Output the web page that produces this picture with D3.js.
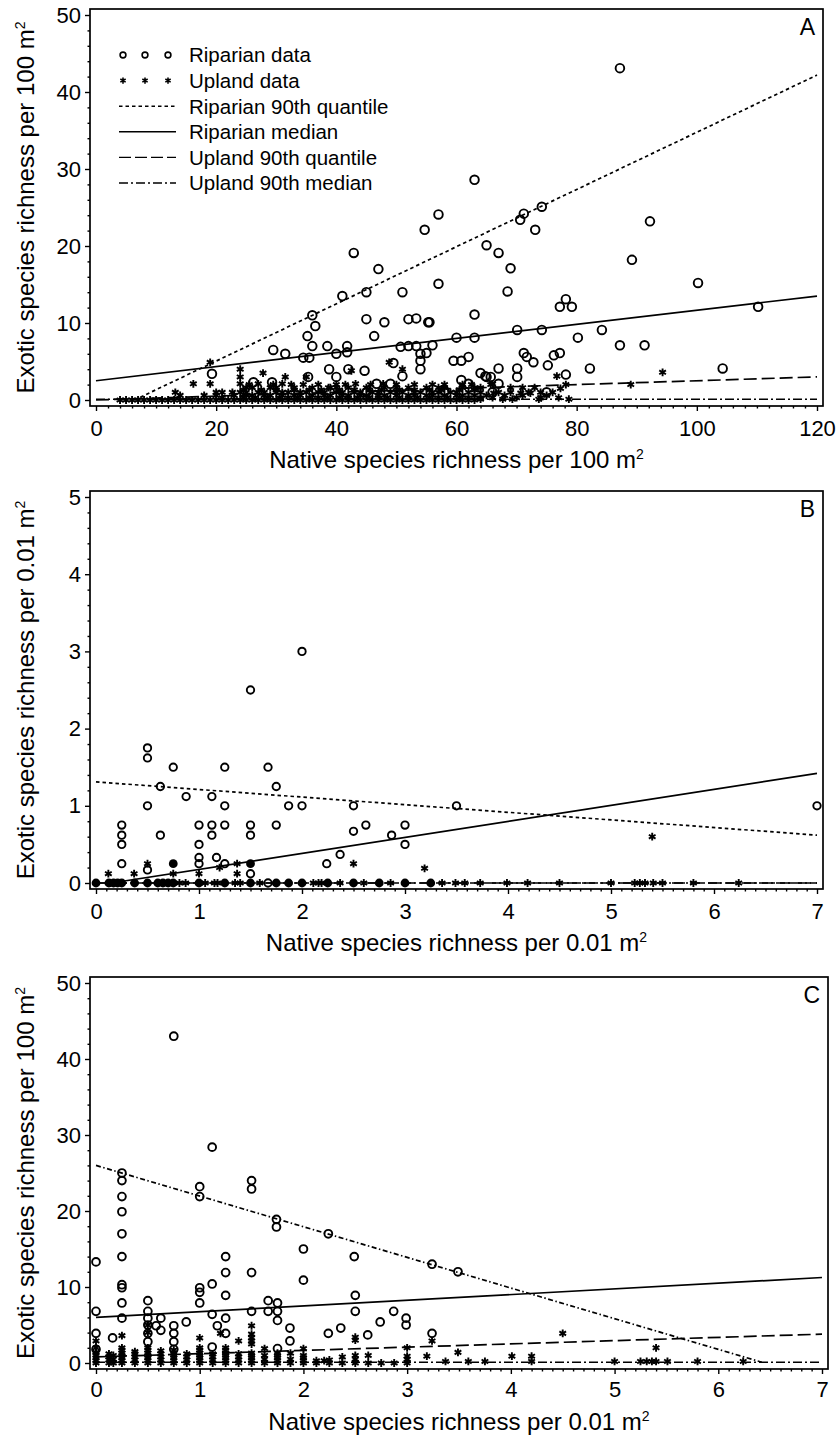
<!DOCTYPE html>
<html>
<head>
<meta charset="utf-8">
<script src="https://cdn.jsdelivr.net/npm/d3@7"></script>
<style>
  body { margin: 0; background: #fff; }
  svg { display: block; font-family: "Liberation Sans", Arial, sans-serif; }
</style>
</head>
<body>
<svg id="chart" width="837" height="1435"></svg>
<script>
// ---- data ----
// Panel A: native vs exotic richness per 100 m2
const riparianA = [
  [87.2,43.1],[63,28.6],[57,24.1],[74.2,25.1],[71.2,24.2],[70.6,23.4],[73.1,22.1],[54.7,22.1],[92.2,23.2],
  [65,20.1],[67,19.1],[69,17.1],[89.2,18.2],[57,15.1],[68.5,14.1],[100.2,15.2],[77.2,12.1],[78.2,13.1],
  [79.2,12.1],[110.2,12.1],[63,11.1],[55.5,10.1],[70.1,9.1],[74.2,9.1],[84.2,9.1],[60,8.1],[63,8.1],
  [80.2,8.1],[56,7.1],[87.2,7.1],[91.3,7.1],[55,6.1],[71.2,6.1],[71.7,5.6],[72.8,4.9],[76.2,5.8],[77.2,6.1],
  [59.5,5.1],[60.8,5.1],[62,5.6],[75.2,4.5],[64,3.5],[65,3.0],[65.7,3.0],[67,4.1],[70.1,4.1],[70.1,3.0],
  [82.2,4.1],[104.3,4.1],[78.2,3.3],[60.8,2.6],[62,2.1],[67,2.1],[64.8,3.1],
  [42.9,19.1],[47,17],[41,13.5],[45,14],[51,14],[36,11],[36.5,9.6],[45,10.5],[48,10.1],[52,10.5],
  [53.3,10.6],[55.3,10.1],[35.2,8.3],[46.3,8.3],[29.5,6.5],[31.5,6],[34.5,5.5],[35.5,5.5],[36,7],
  [38.5,7],[40,6],[41.8,7],[41.8,6.2],[44.7,3.8],[38.8,4],[40,3],[42,4],[19.3,3.4],[26.2,2.3],[29.3,2.3],
  [35.3,3],[46.7,2.1],[49,2.1],[49.5,4.8],[51,3.1],[50.7,6.9],[52,7],[53.3,7],[54,6],[54,5.1],[54,4],
  [45,1],[58,1.2],[66,1],[75,1]
];
const uplandA = [
  [19,4.9],[24,4],[24,3],[24,2.1],[27.8,3.5],[16.2,2.1],[19,2.1],[13.2,1],[14,0.6],[21,1],[22.7,1],
  [31.5,3],[31,2.1],[27,2.1],[35,3],[34.5,2],[37,2],[38.7,1.6],[43.2,2.1],[45.7,2],[47.8,2.1],[48.8,4.9],
  [51,4],[42.5,3.8],[66,2.1],[76.7,3.1],[77.3,1.5],[78.2,2],[89,2],[94.3,3.6],[65.7,2],[66.2,0.9],
  [70.7,0.9],[72.3,0.9],[64,0.1],[67.7,0.1],[69.3,0.1],[73.7,0.1],[78.7,0.1]
];
// dense band of upland points near zero: [exotic value, native values]
const uplandARows = [
  [0, [4,5,6,7,8,9,10,11,12,13,14,15,16,17,18,19,20,21,22,23,24,25,26,27,28,29,30,31,32,33,34,35,36,37,38,39,
       40,41,42,43,44,45,46,47,48,49,50,51,52,53,54,55,56,57,58,59,60,61,62,63]],
  [0.3, [21,24.5,26.5,28.5,30.5,32,33.5,35.5,37,38.5,40.5,42,43.5,45.5,47,48.5,50.5,52,53.5,55.5,57,58.5,60.5,62,64,66,70,74,77]],
  [0.6, [18,20,23,25,26,28,29,31,33,34,36,38,39,41,42,44,45,47,48,50,52,53,55,56,58,60,61,63,65,68,71,75]],
  [1, [20,24,25,27,28,30,31,32,34,35,37,38,40,41,43,44,46,47,49,50,51,53,54,56,57,59,60,62,64,67,69,72,74,76]],
  [1.3, [24.5,27.5,30,33,35.5,37.5,40.5,43,45.5,47.5,50.5,53,55.5,57.5,60.5,63]],
  [1.6, [25,26,29,30,33,36,39,40,42,45,48,50,52,55,57,58,61,63,64,69,71,73]],
  [2, [25.5,29.5,32.5,40,41.5,50,53,56,58,61,62.5]]
];
const linesA = {
  ripQ90: [[6.4,0],[120,42.2]],
  ripMed: [[0,2.5],[120,13.5]],
  upQ90: [[0,0],[120,3]],
  upMed: [[0,0.1],[120,0.1]]
};

// Panel B: per 0.01 m2
const riparianB = [
  [2,3],[1.5,2.5],[0.5,1.75],[0.5,1.62],[0.75,1.5],[1.25,1.5],[1.67,1.5],[0.625,1.25],[1.75,1.25],
  [0.875,1.12],[1.125,1.12],[0.5,1],[1.25,1],[1.87,1],[2,1],[2.5,1],[0.25,0.75],[0.25,0.62],[0.25,0.5],
  [0.25,0.25],[0.625,0.62],[1,0.75],[1,0.5],[1,0.33],[1,0.25],[1.125,0.75],[1.125,0.62],[1.25,0.75],
  [1.5,0.75],[1.5,0.62],[1.75,0.75],[1.17,0.33],[1.25,0.25],[0.5,0.17],[1.5,0.12],[2.24,0.25],[2.37,0.37],
  [2.5,0.67],[2.62,0.75],[2.87,0.62],[3,0.75],[3,0.5],[3.5,1],[7,1],[1.67,0]
];
const uplandB = [
  [0.12,0.12],[0.37,0.12],[0.5,0.25],[0.75,0.12],[1,0.12],[1.2,0.2],[1.37,0.25],[1.37,0.12],[2.5,0.25],
  [3.19,0.19],[5.4,0.6],
  [0.14,0],[0.81,0],[0.87,0],[1.06,0],[1.15,0],[1.18,0],[1.35,0],[1.4,0],[1.59,0],[2.11,0],[2.16,0],
  [2.19,0],[2.37,0],[2.6,0],[2.86,0],[3.36,0],[3.49,0],[3.58,0],[3.73,0],[3.99,0],[4.19,0],[4.5,0],
  [5,0],[5.23,0],[5.28,0],[5.33,0],[5.41,0],[5.5,0],[5.8,0],[6.24,0]
];
// riparian and upland plots falling on the same spot (printed as solid dots)
const sharedB = [
  [0,0],[0.125,0],[0.17,0],[0.21,0],[0.25,0],[0.375,0],[0.5,0],[0.6,0],[0.65,0],[0.7,0],[0.75,0],[1,0],
  [1.25,0],[1.5,0],[1.75,0],[1.87,0],[2,0],[2.25,0],[2.5,0],[2.75,0],[3,0],[3.25,0],[0.75,0.25],[1.5,0.25]
];
const linesB = {
  ripQ90: [[0,1.31],[7,0.62]],
  ripMed: [[0.15,0],[7,1.42]],
  upQ90: [[0,0],[7,0]],
  upMed: [[0,0],[7,0]]
};

// Panel C: native per 0.01 m2 vs exotic per 100 m2
const riparianC = [
  [0.75,43],[1.12,28.4],[0.25,25],[0.25,24],[0.25,21.9],[0.25,19.9],[0.25,17],[0.25,14],[0.25,10.3],
  [0.25,9.9],[0.25,7.9],[0.25,5.9],[0,13.3],[0,6.8],[0,3.9],[0,1.8],[1,23.2],[1,21.9],[1.5,24],[1.5,22.9],
  [1.74,18.9],[1.74,17.9],[2.24,17],[2,15],[2,10.9],[2.49,14],[2.5,8.9],[2.5,6.8],[1.25,14],[1.25,11.9],
  [1.25,8.9],[1.25,5.9],[1.25,3.9],[1.12,10.4],[1,9.9],[1,9.3],[1,7.9],[1.5,11.9],[1.5,6.8],[0.5,8.2],
  [0.5,6.8],[0.5,5.9],[0.5,5],[0.5,3.9],[0.5,2.8],[0.625,5.9],[0.625,4.3],[0.58,4.9],[0.75,4.9],[0.75,3.9],
  [0.75,2.8],[0.75,1.8],[0.87,5.4],[0.16,3.3],[1.12,6.4],[1.17,4.9],[1.12,2.1],[1.66,8.2],[1.66,6.8],
  [1.75,7.9],[1.75,6.8],[1.75,5.6],[1.87,4.6],[1.87,2.9],[1.75,1.9],[2.24,3.9],[2.36,4.6],[2.62,3.7],
  [2.74,5.4],[2.87,6.8],[2.99,5.9],[2.99,5],[3.24,13],[3.49,12],[3.24,3.9]
];
// upland columns: [native value, exotic values]
const uplandCCols = [
  [0,[0,0.3,0.7,1,1.4,2,2.9]],[0.125,[0,0.4,0.8,1.2]],[0.167,[0,0.5,1]],
  [0.25,[0,0.3,0.7,1,1.3,1.7,2,3.6]],[0.375,[0,0.4,0.8,1.2,1.5]],[0.5,[0,0.3,0.7,1,1.3,1.7,2,4,5]],
  [0.625,[0,0.4,0.8,1.2,1.6]],[0.75,[0,0.3,0.7,1,1.3,1.7]],[0.875,[0,0.4,0.8,1.2]],
  [1,[0,0.3,0.7,1,1.3,1.7,2,3.3]],[1.125,[0,0.4,0.8,1.2]],[1.2,[3.9]],[1.25,[0,0.3,0.7,1,1.3,1.7,2]],
  [1.375,[0,0.4,0.8,1.2,2.9]],[1.5,[0,0.3,0.7,1,1.3,2.5,2.9,3.3,3.8,4.9]],[1.625,[0,0.5,1,1.9]],
  [1.75,[0,0.3,0.7,1,1.3]],[1.875,[0,0.5,1.3]],[2,[0,0.3,0.7,1,1.9]],[2.125,[0,0.3]],[2.2,[0.3]],
  [2.25,[0,0.4]],[2.375,[0,0.8]],[2.5,[0,0.5,1,3,3.4]],[2.625,[0,1]],[2.75,[0]],[2.875,[0]],
  [3,[0,0.5,0.9,2]]
];
const uplandC = [
  [3.19,0.9],[3.24,2.9],[3.49,1.4],[4.5,3.9],[4.01,0.9],[4.2,0.9],[5.4,2],[3.37,0.2],[3.59,0.2],
  [3.75,0.2],[4.2,0.2],[5,0.2],[5.25,0.2],[5.31,0.2],[5.36,0.2],[5.4,0.2],[5.51,0.2],[5.8,0.2],[6.24,0.2]
];
const linesC = {
  ripQ90: [[0,26],[6.42,0.1]],
  ripMed: [[0,6],[7,11.25]],
  upQ90: [[0,0.8],[7,3.8]],
  upMed: [[0,0.1],[7,0.1]]
};

const legendItems = ["Riparian data", "Upland data", "Riparian 90th quantile", "Riparian median",
                     "Upland 90th quantile", "Upland 90th median"];

// ---- drawing ----
const svg = d3.select("#chart");
svg.append("rect").attr("width", 837).attr("height", 1435).attr("fill", "#fff");

const dash = { ripQ90: "3.5,3", ripMed: null, upQ90: "13,5", upMed: "9,3,2,3" };
const star = d3.symbol(d3.symbolAsterisk, 42);

function expandRows(rows) {
  const out = [];
  rows.forEach(([yv, xs]) => xs.forEach(xv => out.push([xv, yv])));
  return out;
}
function expandCols(cols) {
  const out = [];
  cols.forEach(([xv, ys]) => ys.forEach(yv => out.push([xv, yv])));
  return out;
}

function drawPanel(p) {
  const g = svg.append("g");
  const x = d3.scaleLinear().domain(p.xDomain).range(p.xRange);
  const y = d3.scaleLinear().domain(p.yDomain).range(p.yRange);
  const left = p.xRange[0] - 6, right = p.xRange[1] + 6;
  const top = p.yRange[1] - 6, bottom = p.yRange[0] + 6;

  // axes (ticks only, frame drawn separately)
  const yMajor = d3.range(p.yDomain[0], p.yDomain[1] + 1e-9, p.yStep);
  const yMinor = d3.range(p.yDomain[0], p.yDomain[1] + 1e-9, p.yMinor).filter(v => !yMajor.some(m => Math.abs(m - v) < 1e-6));
  const xMajor = d3.range(p.xDomain[0], p.xDomain[1] + 1e-9, p.xStep);
  const xMinor = d3.range(p.xDomain[0], p.xDomain[1] + 1e-9, p.xMinor).filter(v => !xMajor.some(m => Math.abs(m - v) < 1e-6));

  const styleAxis = a => {
    a.select(".domain").remove();
    a.selectAll("line").attr("stroke", "#000").attr("stroke-width", 1.4);
    a.selectAll("text").attr("font-size", 22).attr("fill", "#000").attr("font-family", "Liberation Sans, Arial, sans-serif");
  };
  g.append("g").attr("transform", `translate(${left},0)`)
    .call(d3.axisLeft(y).tickValues(yMajor).tickSize(5).tickPadding(4).tickFormat(d3.format("d"))).call(styleAxis);
  g.append("g").attr("transform", `translate(${left},0)`)
    .call(d3.axisLeft(y).tickValues(yMinor).tickSize(2.5).tickFormat("")).call(styleAxis);
  g.append("g").attr("transform", `translate(0,${bottom})`)
    .call(d3.axisBottom(x).tickValues(xMajor).tickSize(5).tickPadding(p.xPad).tickFormat(d3.format("d"))).call(styleAxis);
  g.append("g").attr("transform", `translate(0,${bottom})`)
    .call(d3.axisBottom(x).tickValues(xMinor).tickSize(2.5).tickFormat("")).call(styleAxis);

  // frame
  g.append("rect").attr("x", left).attr("y", top).attr("width", right - left).attr("height", bottom - top)
    .attr("fill", "none").attr("stroke", "#000").attr("stroke-width", 1.7);

  // fitted lines
  const line = d3.line().x(d => x(d[0])).y(d => y(d[1]));
  Object.entries(p.lines).forEach(([k, seg]) => {
    g.append("path").datum(seg).attr("d", line).attr("fill", "none").attr("stroke", "#000")
      .attr("stroke-width", 1.7).attr("stroke-dasharray", k === "ripQ90" && p.q90Dash ? p.q90Dash : dash[k]);
  });

  // upland asterisks
  g.selectAll(null).data(p.upland).enter().append("path")
    .attr("d", star).attr("transform", d => `translate(${x(d[0])},${y(d[1])})`)
    .attr("fill", "none").attr("stroke", "#000").attr("stroke-width", 1.9);
  // shared solid dots
  g.selectAll(null).data(p.shared || []).enter().append("circle")
    .attr("cx", d => x(d[0])).attr("cy", d => y(d[1])).attr("r", 4.4).attr("fill", "#000");
  // riparian circles
  g.selectAll(null).data(p.riparian).enter().append("circle")
    .attr("cx", d => x(d[0])).attr("cy", d => y(d[1])).attr("r", p.r)
    .attr("fill", "none").attr("stroke", "#000").attr("stroke-width", 1.9);

  // panel letter
  g.append("text").attr("x", right - 8).attr("y", top + 26).attr("text-anchor", "end")
    .attr("font-size", 23).text(p.letter);

  // axis titles
  const xt = g.append("text").attr("x", (p.xRange[0] + p.xRange[1]) / 2).attr("y", bottom + p.xTitleOff)
    .attr("text-anchor", "middle").attr("font-size", 24);
  xt.append("tspan").text(p.xTitle);
  xt.append("tspan").attr("font-size", 14).attr("dy", -9).text("2");
  const cy = (top + bottom) / 2;
  const yt = g.append("text").attr("transform", `translate(34,${cy}) rotate(-90)`)
    .attr("text-anchor", "middle").attr("font-size", 24);
  yt.append("tspan").text(p.yTitle);
  yt.append("tspan").attr("font-size", 14).attr("dy", -9).text("2");

  return { g, x, y };
}

drawPanel({
  xDomain: [0, 120], xRange: [96, 817], yDomain: [0, 50], yRange: [400, 15],
  xStep: 20, xMinor: 2, yStep: 10, yMinor: 2, xPad: 9, r: 4.3, letter: "A",
  xTitle: "Native species richness per 100 m", yTitle: "Exotic species richness per 100 m", xTitleOff: 62,
  riparian: riparianA, upland: uplandA.concat(expandRows(uplandARows)), lines: linesA
});
drawPanel({
  xDomain: [0, 7], xRange: [96, 817], yDomain: [0, 5], yRange: [883, 497],
  xStep: 1, xMinor: 0.1, yStep: 1, yMinor: 0.2, xPad: 9, r: 3.7, letter: "B",
  xTitle: "Native species richness per 0.01 m", yTitle: "Exotic species richness per 0.01 m", xTitleOff: 62,
  riparian: riparianB, upland: uplandB, shared: sharedB, lines: linesB
});
drawPanel({
  xDomain: [0, 7], xRange: [96, 822], yDomain: [0, 50], yRange: [1363, 983],
  xStep: 1, xMinor: 0.1, yStep: 10, yMinor: 2, xPad: 7, r: 3.9, letter: "C", q90Dash: "5,2.5,1.5,2.5",
  xTitle: "Native species richness per 0.01 m", yTitle: "Exotic species richness per 100 m", xTitleOff: 61,
  riparian: riparianC, upland: expandCols(uplandCCols).concat(uplandC), lines: linesC
});

// legend (panel A)
const lg = svg.append("g");
const legY = d3.scaleLinear().domain([0, 5]).range([55, 183]);
const symX = [123, 145, 168];
lg.selectAll(null).data(symX).enter().append("circle")
  .attr("cx", d => d).attr("cy", legY(0)).attr("r", 2.9).attr("fill", "none").attr("stroke", "#000").attr("stroke-width", 1.6);
lg.selectAll(null).data(symX).enter().append("path")
  .attr("d", d3.symbol(d3.symbolAsterisk, 26)).attr("transform", d => `translate(${d},${legY(1)})`)
  .attr("fill", "none").attr("stroke", "#000").attr("stroke-width", 1.6);
["ripQ90", "ripMed", "upQ90", "upMed"].forEach((k, i) => {
  lg.append("line").attr("x1", 119).attr("x2", 176).attr("y1", legY(i + 2)).attr("y2", legY(i + 2))
    .attr("stroke", "#000").attr("stroke-width", 1.4).attr("stroke-dasharray", k === "upQ90" ? "12,4" : dash[k]);
});
lg.selectAll(null).data(legendItems).enter().append("text")
  .attr("x", 189).attr("y", (d, i) => legY(i)).attr("dy", "0.36em").attr("font-size", 20.5).text(d => d);
</script>
</body>
</html>
